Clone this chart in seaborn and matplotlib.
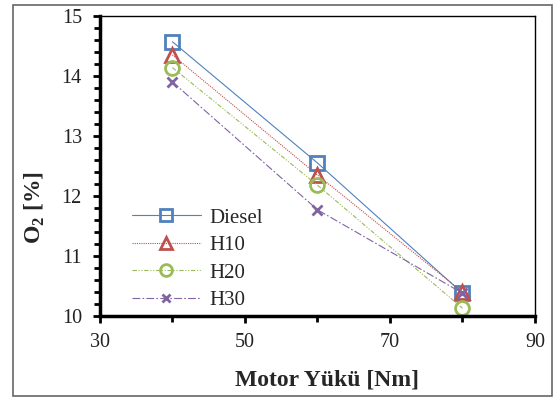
import matplotlib
matplotlib.use("Agg")
import matplotlib.pyplot as plt
import seaborn as sns
import pandas as pd
from matplotlib.patches import Rectangle
from matplotlib.ticker import FixedLocator, MultipleLocator

sns.set_theme(style="white")
plt.rcParams['font.family'] = ['Liberation Serif', 'DejaVu Serif']
plt.rcParams['mathtext.fontset'] = 'custom'
plt.rcParams['mathtext.rm'] = 'Liberation Serif'
plt.rcParams['mathtext.bf'] = 'Liberation Serif:bold'

load = [40, 60, 80]
diesel = [14.57, 12.55, 10.38]
h10 = [14.35, 12.35, 10.40]
h20 = [14.14, 12.18, 10.13]
h30 = [13.90, 11.77, 10.38]
names = ["Diesel", "H10", "H20", "H30"]
series = [diesel, h10, h20, h30]
x_major = [30, 50, 70, 90]
x_minor = [40, 60, 80]

colors = ["#4F81BD", "#C0504D", "#9BBB59", "#8064A2"]
markers = ["s", "^", "o", "x"]
msizes = [10, 9.5, 10, 7]
dashes = [(None, None), (1, 1), (4, 1.5, 1, 1.5, 1, 1.5), (7, 2, 1.5, 2)]

fig = plt.figure(figsize=(5.55, 3.98), dpi=100)
ax = fig.add_axes([0.180, 0.206, 0.784, 0.754])

for name, vals, c, m, ms, d in zip(names, series, colors, markers, msizes, dashes):
    df = pd.DataFrame({"load": load, "o2": vals})
    sns.lineplot(data=df, x="load", y="o2", ax=ax, color=c, marker=m,
                 markersize=ms, mfc="none", mec=c, mew=2, linewidth=0.8,
                 label=name)
    ln = ax.lines[-1]
    if d[0] is not None:
        ln.set_dashes(d)

ax.set_xlim(30, 90)
ax.set_ylim(10, 15)
ax.xaxis.set_major_locator(FixedLocator(x_major))
ax.xaxis.set_minor_locator(FixedLocator(x_minor))
ax.yaxis.set_major_locator(MultipleLocator(1))
ax.yaxis.set_minor_locator(MultipleLocator(0.2))
ax.tick_params(axis="both", which="major", direction="out", length=5, width=2,
               labelsize=14.5, colors="black", bottom=True, left=True)
ax.tick_params(axis="x", which="major", pad=7.5)
ax.tick_params(axis="y", which="major", pad=8)
ax.tick_params(axis="both", which="minor", direction="out", length=4, width=2,
               bottom=True, left=True, colors="black")
for t in ax.get_xticklabels() + ax.get_yticklabels():
    t.set_color("#222222")

for s in ["left", "bottom"]:
    ax.spines[s].set_linewidth(2.5)
    ax.spines[s].set_color("black")
for s in ["top", "right"]:
    ax.spines[s].set_linewidth(1)
    ax.spines[s].set_color("black")

ax.set_xlabel("Motor Yükü [Nm]", fontsize=17, fontweight="bold")
ax.set_ylabel(r"O$_\mathbf{2}$ [%]", fontsize=17, fontweight="bold")
ax.xaxis.set_label_coords(0.523, -0.177)
ax.yaxis.set_label_coords(-0.122, 0.362)

ax.legend(loc="lower left", bbox_to_anchor=(32 / 435, 6 / 300), frameon=False,
          fontsize=15, handlelength=3.3, labelspacing=0.38, borderpad=0,
          borderaxespad=0, handletextpad=0.4, markerscale=0.85)

fig.patches.append(Rectangle((13 / 555, 2 / 398), 539 / 555, 391 / 398,
                             transform=fig.transFigure, fill=False,
                             edgecolor="#666666", linewidth=1.2))

fig.savefig("out.png", dpi=100)
